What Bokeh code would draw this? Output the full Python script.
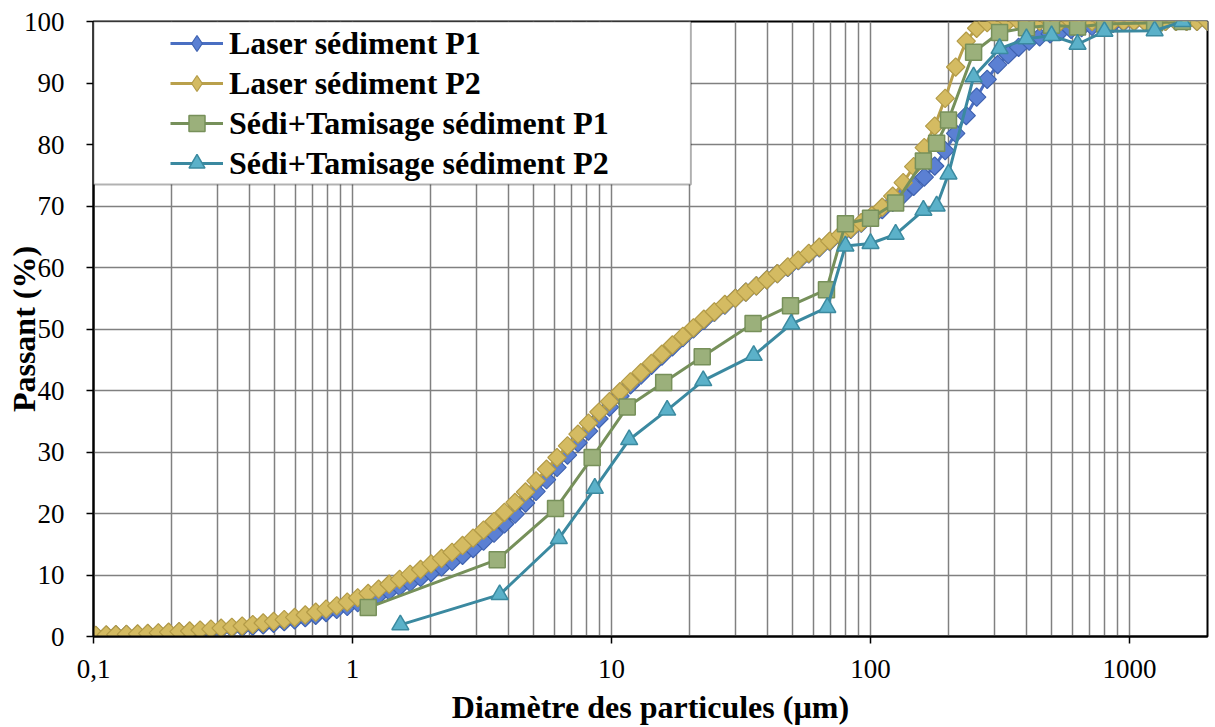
import numpy as np
from bokeh.plotting import figure
from bokeh.models import FixedTicker, Legend, LegendItem, BoxAnnotation, Range1d
from bokeh.embed import file_html
from bokeh.resources import INLINE

# ---- data -------------------------------------------------------------
laser_x = [0.102, 0.112, 0.122, 0.134, 0.148, 0.162, 0.178, 0.195, 0.214, 0.235,
           0.258, 0.284, 0.311, 0.342, 0.375, 0.412, 0.452, 0.496, 0.545, 0.598,
           0.657, 0.721, 0.791, 0.869, 0.954, 1.047, 1.149, 1.261, 1.385, 1.520,
           1.669, 1.832, 2.011, 2.207, 2.423, 2.660, 2.920, 3.206, 3.519, 3.862,
           4.241, 4.656, 5.111, 5.611, 6.159, 6.761, 7.422, 8.148, 8.944, 9.819,
           10.78, 11.83, 12.99, 14.26, 15.65, 17.18, 18.86, 20.71, 22.73, 24.95,
           27.39, 30.07, 33.01, 36.24, 39.78, 43.67, 47.94, 52.62, 57.77, 63.41,
           69.61, 76.42, 83.89, 92.09, 101.1, 111.0, 121.8, 133.7, 146.8, 161.2,
           176.9, 194.2, 213.2, 234.1, 256.9, 282.1, 309.6, 339.9, 373.1, 409.6,
           449.7, 493.6, 541.9, 594.9, 653.0, 716.8, 786.9, 863.9, 948.3, 1041,
           1143, 1255, 1377, 1512, 1660, 1822, 2000]

laser_p1 = [0.15, 0.2, 0.25, 0.3, 0.35, 0.42, 0.5, 0.6, 0.7, 0.8,
            0.9, 1.05, 1.2, 1.35, 1.5, 1.7, 1.9, 2.15, 2.4, 2.7,
            3.05, 3.45, 3.9, 4.4, 4.9, 5.5, 6.1, 6.7, 7.4, 8.1,
            8.8, 9.6, 10.4, 11.3, 12.2, 13.2, 14.3, 15.5, 16.8, 18.3,
            19.9, 21.7, 23.6, 25.5, 27.5, 29.5, 31.5, 33.4, 35.4, 37.3,
            39.1, 40.9, 42.5, 44.1, 45.6, 47.1, 48.6, 50.0, 51.4, 52.7,
            53.9, 55.0, 56.0, 57.0, 58.0, 59.0, 60.0, 61.1, 62.2, 63.2,
            64.2, 65.2, 66.2, 67.2, 68.2, 69.4, 70.6, 71.8, 73.2, 74.7,
            76.5, 79.0, 81.8, 84.7, 87.7, 90.6, 93.0, 94.6, 95.8, 96.8,
            97.5, 98.0, 98.4, 98.7, 99.0, 99.2, 99.5, 99.7, 99.85, 99.95,
            100, 100, 100, 100, 100, 100, 100]

laser_p2 = [0.2, 0.25, 0.3, 0.35, 0.42, 0.5, 0.6, 0.7, 0.8, 0.9,
            1.05, 1.2, 1.35, 1.5, 1.7, 1.95, 2.2, 2.45, 2.75, 3.1,
            3.5, 3.95, 4.45, 5.0, 5.6, 6.3, 7.0, 7.7, 8.5, 9.3,
            10.1, 10.9, 11.8, 12.7, 13.7, 14.8, 16.0, 17.3, 18.7, 20.2,
            21.8, 23.5, 25.3, 27.2, 29.1, 31.0, 32.9, 34.7, 36.5, 38.2,
            39.8, 41.4, 42.9, 44.4, 45.9, 47.4, 48.8, 50.2, 51.6, 52.8,
            54.0, 55.0, 56.0, 57.0, 58.0, 59.0, 60.1, 61.2, 62.3, 63.3,
            64.3, 65.3, 66.3, 67.3, 68.4, 69.8, 71.6, 73.8, 76.4, 79.5,
            83.0, 87.5, 92.6, 96.8, 98.9, 99.8, 100, 100, 100, 100,
            100, 100, 100, 100, 100, 100, 100, 100, 100, 100,
            100, 100, 100, 100, 100, 100, 100]

sedi_p1_x = [1.15, 3.62, 6.08, 8.42, 11.5, 15.9, 22.4, 35.2, 49.1, 67.6, 80, 100,
             125, 160, 180, 200, 250, 315, 400, 500, 630, 800, 1250, 1600]
sedi_p1_y = [4.7, 12.5, 20.8, 29.1, 37.3, 41.3, 45.5, 50.9, 53.8, 56.4, 67.1, 68.0,
             70.5, 77.3, 80.2, 84.0, 95.0, 98.2, 99.0, 99.4, 99.1, 99.6, 99.8, 100]

sedi_p2_x = [1.53, 3.70, 6.26, 8.62, 11.7, 16.4, 22.6, 35.4, 49.4, 68.1, 80, 100,
             125, 160, 180, 200, 250, 315, 400, 500, 630, 800, 1250, 1600]
sedi_p2_y = [1.9, 6.8, 15.9, 24.1, 32.0, 36.8, 41.6, 45.7, 50.8, 53.5, 63.5, 63.9,
             65.4, 69.3, 70.0, 75.2, 91.0, 95.6, 97.2, 97.7, 96.3, 98.4, 98.5, 100]

labels = ["Laser sédiment P1", "Laser sédiment P2",
          "Sédi+Tamisage sédiment P1", "Sédi+Tamisage sédiment P2"]

x_major = [0.1, 1, 10, 100, 1000]
x_major_labels = ["0,1", "1", "10", "100", "1000"]
y_major = [0, 10, 20, 30, 40, 50, 60, 70, 80, 90, 100]

# ---- figure -----------------------------------------------------------
FONT = "Liberation Serif"
GRID = "#808080"

p = figure(width=1215, height=727, x_axis_type="log",
           x_range=Range1d(0.1, 2000), y_range=Range1d(0, 100),
           output_backend="svg", toolbar_location=None,
           min_border_left=93, min_border_right=8,
           min_border_top=21, min_border_bottom=90)
p.background_fill_color = "white"
p.border_fill_color = "white"
p.outline_line_color = "black"
p.outline_line_width = 2

minor = []
for d in [0.1, 1, 10, 100, 1000]:
    for k in range(2, 10):
        minor.append(d * k)
minor.append(2000)

p.xaxis.ticker = FixedTicker(ticks=x_major, minor_ticks=minor)
p.xaxis.major_label_overrides = {v: s for v, s in zip(x_major, x_major_labels)}
p.yaxis.ticker = FixedTicker(ticks=y_major, minor_ticks=[])

for ax in (p.xaxis[0], p.yaxis[0]):
    ax.axis_line_color = "black"
    ax.axis_line_width = 2
    ax.major_tick_line_color = "black"
    ax.major_tick_line_width = 1.5
    ax.major_tick_in = 0
    ax.major_tick_out = 7
    ax.minor_tick_in = 0
    ax.minor_tick_out = 0
    ax.major_label_text_font = FONT
    ax.major_label_text_font_size = "27px"
    ax.major_label_text_color = "black"
    ax.axis_label_text_font = FONT
    ax.axis_label_text_font_size = "32px"
    ax.axis_label_text_font_style = "bold"
    ax.axis_label_text_color = "black"

p.xaxis.axis_label = "Diamètre des particules (µm)"
p.yaxis.axis_label = "Passant (%)"
p.xaxis.major_label_standoff = 16
p.xaxis.axis_label_standoff = 8
p.yaxis.major_label_standoff = 22
p.yaxis.axis_label_standoff = -21

p.xgrid.grid_line_color = GRID
p.xgrid.grid_line_width = 1.5
p.xgrid.minor_grid_line_color = GRID
p.xgrid.minor_grid_line_width = 1.5
p.ygrid.grid_line_color = GRID
p.ygrid.grid_line_width = 1.5

# ---- series -----------------------------------------------------------
styles = [
    dict(line="#4A6FC2", fill="#5B80D3", edge="#3F62B0"),
    dict(line="#B9A04B", fill="#D4BB62", edge="#B39B47"),
    dict(line="#76905A", fill="#9BB07B", edge="#77905A"),
    dict(line="#3B89A0", fill="#5BB1C9", edge="#3B8AA0"),
]

l1 = p.line(laser_x, laser_p1, line_color=styles[0]["line"], line_width=3)
s1 = p.scatter(laser_x, laser_p1, marker="square", angle=np.pi / 4, size=13,
               fill_color=styles[0]["fill"], line_color=styles[0]["edge"], line_width=1.2)

l2 = p.line(laser_x, laser_p2, line_color=styles[1]["line"], line_width=3)
s2 = p.scatter(laser_x, laser_p2, marker="square", angle=np.pi / 4, size=13,
               fill_color=styles[1]["fill"], line_color=styles[1]["edge"], line_width=1.2)

l3 = p.line(sedi_p1_x, sedi_p1_y, line_color=styles[2]["line"], line_width=3)
s3 = p.scatter(sedi_p1_x, sedi_p1_y, marker="square", size=16,
               fill_color=styles[2]["fill"], line_color=styles[2]["edge"], line_width=1.5)

l4 = p.line(sedi_p2_x, sedi_p2_y, line_color=styles[3]["line"], line_width=3)
s4 = p.scatter(sedi_p2_x, sedi_p2_y, marker="triangle", size=17,
               fill_color=styles[3]["fill"], line_color=styles[3]["edge"], line_width=1.5)

# hidden diamond glyphs used only for the legend swatches
d1 = p.scatter(laser_x, laser_p1, marker="diamond", visible=False,
               fill_color=styles[0]["fill"], line_color=styles[0]["edge"], line_width=1.2)
d2 = p.scatter(laser_x, laser_p2, marker="diamond", visible=False,
               fill_color=styles[1]["fill"], line_color=styles[1]["edge"], line_width=1.2)

# legend frame
box = BoxAnnotation(left=0.1, right=20.25, bottom=73.5, top=100,
                    fill_color="white", fill_alpha=1.0,
                    line_color="black", line_width=2)
p.add_layout(box)

legend = Legend(items=[LegendItem(label=labels[0], renderers=[l1, d1]),
                       LegendItem(label=labels[1], renderers=[l2, d2]),
                       LegendItem(label=labels[2], renderers=[l3, s3]),
                       LegendItem(label=labels[3], renderers=[l4, s4])],
                location=(77, 453), padding=0, margin=0, spacing=0,
                glyph_width=53, glyph_height=40, label_height=40,
                label_standoff=6,
                label_text_font=FONT, label_text_font_size="32px",
                label_text_font_style="bold", label_text_color="black",
                border_line_alpha=0, background_fill_alpha=0)
p.add_layout(legend)

open("out.html", "w").write(file_html(p, INLINE))
